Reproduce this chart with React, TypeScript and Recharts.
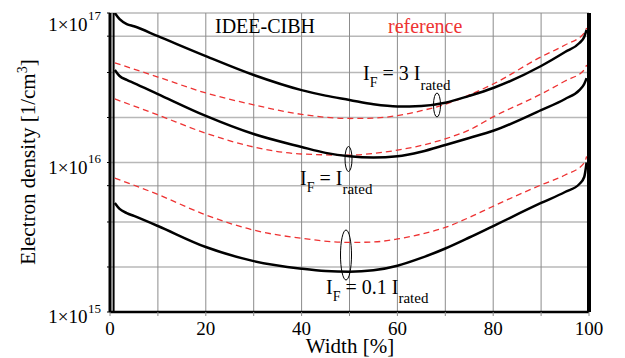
import React from 'react';
import { LineChart, Line, XAxis, YAxis, CartesianGrid, ReferenceLine } from 'recharts';

const FONT = "'Liberation Serif', 'Times New Roman', Times, 'DejaVu Serif', serif";
const RED = '#ee3333';

// width positions [%]
const solidX = [1, 2, 3.5, 5, 10, 20, 30, 40, 45, 50, 55, 60, 65, 70, 75, 80, 90, 95, 98, 99, 99.5];
const refX = [1, 10, 20, 30, 40, 50, 55, 60, 65, 70, 75, 80, 90, 95, 99, 99.5];

// IDEE-CIBH (solid)
const idee3 = [1e17, 9.1e16, 8.44e16, 8.15e16, 7.0e16, 5.15e16, 3.85e16, 3.05e16, 2.8e16, 2.62e16, 2.45e16, 2.37e16, 2.39e16, 2.51e16, 2.79e16, 3.15e16, 4.42e16, 5.48e16, 6.3e16, 6.92e16, 7.7e16];
const idee1 = [4.16e16, 3.79e16, 3.57e16, 3.4e16, 2.87e16, 2.05e16, 1.55e16, 1.27e16, 1.16e16, 1.1e16, 1.08e16, 1.1e16, 1.18e16, 1.31e16, 1.46e16, 1.63e16, 2.24e16, 2.66e16, 3.05e16, 3.35e16, 3.67e16];
const idee01 = [5.36e15, 4.89e15, 4.59e15, 4.39e15, 3.76e15, 2.72e15, 2.19e15, 1.95e15, 1.88e15, 1.86e15, 1.9e15, 2.04e15, 2.3e15, 2.66e15, 3.15e15, 3.76e15, 5.36e15, 6.35e15, 7.18e15, 8.0e15, 1.0e16];

// reference (dashed)
const ref3 = [4.64e16, 3.73e16, 2.92e16, 2.43e16, 2.1e16, 1.97e16, 1.98e16, 2.06e16, 2.22e16, 2.45e16, 2.83e16, 3.35e16, 5.09e16, 6.11e16, 7.35e16, 7.94e16];
const ref1 = [2.66e16, 2.08e16, 1.57e16, 1.27e16, 1.14e16, 1.12e16, 1.15e16, 1.21e16, 1.3e16, 1.44e16, 1.65e16, 2.02e16, 2.87e16, 3.51e16, 4.16e16, 4.49e16];
const ref01 = [7.87e15, 6.11e15, 4.46e15, 3.53e15, 3.11e15, 2.92e15, 2.94e15, 3.08e15, 3.32e15, 3.68e15, 4.29e15, 5.1e15, 7.08e15, 8.25e15, 9.93e15, 1.1e16];

const xTicks = [0, 10, 20, 30, 40, 50, 60, 70, 80, 90, 100];
const yTicks = [
  1e15, 2e15, 3e15, 4e15, 5e15, 6e15, 7e15, 8e15, 9e15,
  1e16, 2e16, 3e16, 4e16, 5e16, 6e16, 7e16, 8e16, 9e16, 1e17,
];
const decades: Record<number, string> = { 1e15: '15', 1e16: '16', 1e17: '17' };

const pts = (xs: number[], vs: number[]) => xs.map((x, i) => ({ x, v: vs[i] }));

const txt = { fontFamily: FONT };

const XTick = (props: any) => {
  const { x, payload } = props;
  if (payload.value % 20 !== 0) return null;
  return (
    <text x={x} y={335} textAnchor="middle" style={txt} fontSize={19} fill="#000">
      {payload.value}
    </text>
  );
};

const YTick = (props: any) => {
  const { y, payload } = props;
  const exp = decades[payload.value];
  if (!exp) return null;
  const base = exp === '17' ? y + 17.5 : y + 11;
  return (
    <g>
      <text x={87.5} y={base} textAnchor="end" style={txt} fontSize={19} fill="#000">
        1×10
      </text>
      <text x={88} y={base - 10.5} style={txt} fontSize={13} fill="#000">
        {exp}
      </text>
    </g>
  );
};

export default function App() {
  return (
    <div style={{ position: 'relative', width: 625, height: 358, background: '#fff', fontFamily: FONT }}>
      <style>{'body{margin:0}'}</style>
      <LineChart width={625} height={358} margin={{ top: 13, right: 36, bottom: 16, left: 10 }}>
        <CartesianGrid horizontal vertical={false} stroke="#b8b8b8" strokeWidth={1.5} />
        <CartesianGrid horizontal={false} vertical stroke="#8c8c8c" strokeWidth={1} />
        <XAxis
          type="number"
          dataKey="x"
          domain={[0, 100]}
          ticks={xTicks}
          height={30}
          tick={<XTick />}
          tickSize={4}
          tickLine={{ stroke: '#8c8c8c' }}
          axisLine={{ stroke: '#000', strokeWidth: 2.5 }}
          allowDataOverflow
        />
        <YAxis
          type="number"
          scale="log"
          domain={[1e15, 1e17]}
          ticks={yTicks}
          width={100}
          tick={<YTick />}
          tickSize={3}
          tickLine={{ stroke: '#000' }}
          axisLine={{ stroke: '#000', strokeWidth: 3 }}
          allowDataOverflow
        />
        <ReferenceLine x={0.75} stroke="#000" strokeWidth={2} />
        <ReferenceLine x={100} stroke="#000" strokeWidth={4} />

        <Line data={pts(refX, ref3)} dataKey="v" type="monotone" stroke={RED} strokeWidth={1.3} strokeDasharray="6 4" dot={false} isAnimationActive={false} />
        <Line data={pts(refX, ref1)} dataKey="v" type="monotone" stroke={RED} strokeWidth={1.3} strokeDasharray="6 4" dot={false} isAnimationActive={false} />
        <Line data={pts(refX, ref01)} dataKey="v" type="monotone" stroke={RED} strokeWidth={1.3} strokeDasharray="6 4" dot={false} isAnimationActive={false} />

        <Line data={pts(solidX, idee3)} dataKey="v" type="monotone" stroke="#000" strokeWidth={2.5} dot={false} isAnimationActive={false} />
        <Line data={pts(solidX, idee1)} dataKey="v" type="monotone" stroke="#000" strokeWidth={2.5} dot={false} isAnimationActive={false} />
        <Line data={pts(solidX, idee01)} dataKey="v" type="monotone" stroke="#000" strokeWidth={2.5} dot={false} isAnimationActive={false} />
      </LineChart>

      {/* labels and annotations */}
      <svg
        width={625}
        height={358}
        style={{ position: 'absolute', left: 0, top: 0, pointerEvents: 'none', fontFamily: FONT }}
      >
        <g transform="translate(35,162) rotate(-90)">
          <text x={0} y={0} textAnchor="middle" style={txt} fontSize={21} fill="#000">
            Electron density [1/cm<tspan fontSize={14} dy={-8}>3</tspan>
            <tspan dy={8}>]</tspan>
          </text>
        </g>
        <text x={350} y={353} textAnchor="middle" style={txt} fontSize={21} fill="#000">
          Width [%]
        </text>

        <text x={215} y={33} style={txt} fontSize={20} fill="#000">IDEE-CIBH</text>
        <text x={388} y={33} style={txt} fontSize={20} fill={RED}>reference</text>

        <text x={363} y={80} style={txt} fontSize={20} fill="#000">
          I<tspan fontSize={14} dy={7}>F</tspan>
          <tspan dy={-7}> = 3 I</tspan>
          <tspan fontSize={15} dy={10}>rated</tspan>
        </text>
        <ellipse cx={437} cy={105} rx={3.5} ry={12} fill="none" stroke="#000" strokeWidth={1} />

        <text x={300} y={185} style={txt} fontSize={20} fill="#000">
          I<tspan fontSize={14} dy={7}>F</tspan>
          <tspan dy={-7}> = I</tspan>
          <tspan fontSize={15} dy={9}>rated</tspan>
        </text>
        <ellipse cx={348.5} cy={159} rx={3.5} ry={12.5} fill="none" stroke="#000" strokeWidth={1} />

        <text x={326} y={294} style={txt} fontSize={20} fill="#000">
          I<tspan fontSize={14} dy={7}>F</tspan>
          <tspan dy={-7}> = 0.1 I</tspan>
          <tspan fontSize={15} dy={9}>rated</tspan>
        </text>
        <ellipse cx={346} cy={255} rx={5.5} ry={25} fill="none" stroke="#000" strokeWidth={1} />
      </svg>
    </div>
  );
}
